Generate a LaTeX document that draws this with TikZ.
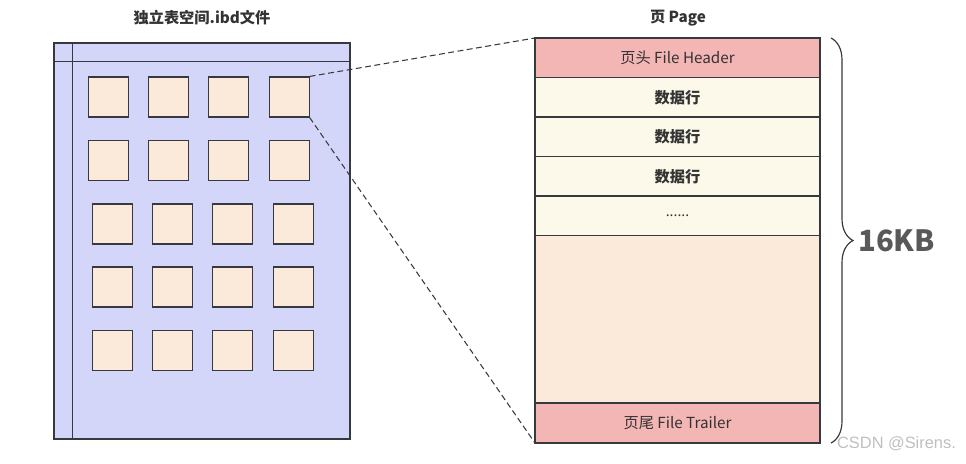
\documentclass[tikz,border=0pt]{standalone}
\usepackage{fontspec}
\setmainfont{Noto Sans CJK SC}
\newfontfamily\wmfont{Liberation Sans}
\usetikzlibrary{positioning,decorations.pathreplacing}

\definecolor{lineclr}{HTML}{36393D}
\definecolor{filebg}{HTML}{D3D6F8}
\definecolor{blockbg}{HTML}{FBE9DA}
\definecolor{headbg}{HTML}{F4B6B5}
\definecolor{rowbg}{HTML}{FCF8EA}
\definecolor{txtclr}{HTML}{333333}

\tikzset{
  title/.style={font=\bfseries\fontsize{13}{15}\selectfont, text=txtclr},
  ibdfile/.style={draw=lineclr, line width=1pt, fill=filebg, minimum width=8.88cm, minimum height=11.88cm},
  pageblock/.style={draw=lineclr, line width=1pt, fill=blockbg, minimum width=1.2cm, minimum height=1.2cm},
  cell/.style={draw=lineclr, line width=1pt, fill=rowbg, minimum width=8.55cm, minimum height=1.185cm,
    inner sep=0pt, outer sep=0pt, text=txtclr, font=\bfseries\fontsize{13}{15}\selectfont},
  headcell/.style={cell, fill=headbg, font=\fontsize{13}{15}\selectfont},
  link/.style={draw=lineclr, line width=0.9pt, dash pattern=on 5pt off 3pt}
}

\begin{document}
\begin{tikzpicture}[x=0.03cm, y=-0.03cm]
    \useasboundingbox (0,0) rectangle (966,463);

    \node[title] (filetitle) at (202,18) {独立表空间.ibd文件};
    \node[ibdfile] (file) at (202,241) {};
    \draw[lineclr, line width=1pt] ([xshift=0.57cm]file.north west) -- ([xshift=0.57cm]file.south west);
    \draw[lineclr, line width=1pt] ([yshift=-0.585cm]file.north west) -- ([yshift=-0.585cm]file.north east);
    \foreach \r/\y/\dx in {1/97/108.5, 2/160.5/108.5, 3/224/112.5, 4/287/112.5, 5/350.5/112.5}
      \foreach \c in {1,...,4}
        \node[pageblock] (s\r\c) at ({\dx+60.2*(\c-1)},\y) {};

    \node[title] (pagetitle) at (678,18) {页 Page};
    \node[headcell] (hdr) at (677.5,57.75) {页头 File Header};
    \node[cell, below=0pt of hdr] (row1) {数据行};
    \node[cell, below=0pt of row1] (row2) {数据行};
    \node[cell, below=0pt of row2] (row3) {数据行};
    \node[cell, font=\fontsize{12}{14}\selectfont, below=0pt of row3] (more) {......};
    \node[cell, fill=blockbg, minimum height=5.025cm, below=0pt of more] (free) {};
    \node[headcell, minimum height=1.2cm, below=0pt of free] (trl) {页尾 File Trailer};

    \draw[link] (s14.north east) -- (hdr.north west);
    \draw[link] (s14.south east) -- (trl.south west);

    \draw[lineclr, line width=1pt, decorate, decoration={brace, amplitude=0.66cm}]
      ([xshift=0.33cm]hdr.north east) -- ([xshift=0.33cm]trl.south east)
      node[midway, right=0.68cm, font=\bfseries\fontsize{25}{28}\selectfont, text=black!65] (size) {16KB};

    \node[anchor=east, font=\wmfont\fontsize{14}{16}\selectfont, text=black!25] (mark) at (960,444) {CSDN @Sirens.};
\end{tikzpicture}
\end{document}
